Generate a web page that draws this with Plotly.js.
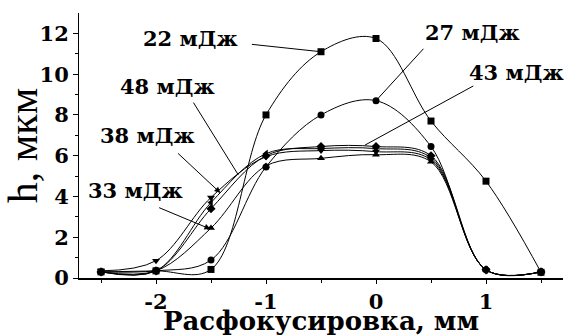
<!DOCTYPE html>
<html>
<head>
<meta charset="utf-8">
<script src="https://cdn.plot.ly/plotly-3.0.1.min.js"></script>
<style>
html,body{margin:0;padding:0;background:#fff;}
#chart{width:568px;height:336px;}
</style>
</head>
<body>
<div id="chart"></div>
<script>
// Defocus positions (mm)
var xVals = [-2.5, -2, -1.5, -1, -0.5, 0, 0.5, 1, 1.5];

// Depth h (µm) for each pulse energy
var seriesNames = ['22 мДж', '27 мДж', '33 мДж', '38 мДж', '43 мДж', '48 мДж'];
var h22 = [0.30, 0.35, 0.42, 8.0, 11.1, 11.75, 7.7, 4.75, 0.28];
var h27 = [0.30, 0.35, 0.88, 5.45, 8.0, 8.7, 6.45, 0.40, 0.30];
var h33 = [0.30, 0.35, 2.45, 5.50, 5.87, 6.05, 5.70, 0.40, 0.30];
var h38 = [0.35, 0.85, 3.95, 5.95, 6.25, 6.20, 5.80, 0.40, 0.30];
var h43 = [0.30, 0.35, 3.40, 6.00, 6.45, 6.45, 6.00, 0.40, 0.30];
var h48 = [0.30, 0.35, 3.70, 6.10, 6.35, 6.35, 5.90, 0.40, 0.30];
var seriesData = [h22, h27, h33, h38, h43, h48];
var seriesSymbols = ['square', 'circle', 'triangle-up', 'triangle-down', 'diamond', 'triangle-left'];

// Axis ticks
var xTickVals = [-2, -1, 0, 1];
var xTickText = ['-2', '-1', '0', '1'];
var yTickVals = [0, 2, 4, 6, 8, 10, 12];
var yTickText = ['0', '2', '4', '6', '8', '10', '12'];

// Callout labels: text position and pointer tail/head (data units)
var labelText = ['22 мДж', '27 мДж', '43 мДж', '48 мДж', '38 мДж', '33 мДж'];
var labelX = [-1.686, 0.879, 1.278, -1.895, -2.076, -2.185];
var labelY = [11.76, 12.06, 10.1, 9.41, 7.01, 4.31];
var pointerTailX = [-1.142, 0.444, 0.898, -1.668, -1.813, -1.985];
var pointerTailY = [11.47, 11.32, 9.46, 8.68, 6.18, 3.48];
var pointerHeadX = [-0.5, 0, -0.1, -1.251, -1.414, -1.505];
var pointerHeadY = [11.1, 8.7, 6.52, 5.05, 4.17, 2.40];
var pointerHead = [0, 0, 0, 0, 2, 2];

var boldFont = 'DejaVu Serif';
var titleFont = 'Liberation Serif';

var traces = seriesData.map(function (ys, i) {
  return {
    x: xVals, y: ys, name: seriesNames[i], type: 'scatter', mode: 'lines+markers',
    line: {color: '#000', width: 1, shape: 'spline', smoothing: 1},
    marker: {color: '#000', size: 7, symbol: seriesSymbols[i]},
    cliponaxis: true, showlegend: false
  };
});

var annotations = [];
labelText.forEach(function (t, i) {
  annotations.push({
    x: labelX[i], y: labelY[i], xref: 'x', yref: 'y', text: t, showarrow: false,
    font: {family: boldFont, size: 21, color: '#000', weight: 'bold'},
    xanchor: 'center', yanchor: 'middle'
  });
  annotations.push({
    x: pointerHeadX[i], y: pointerHeadY[i], xref: 'x', yref: 'y',
    ax: pointerTailX[i], ay: pointerTailY[i], axref: 'x', ayref: 'y',
    text: '', showarrow: true, arrowhead: pointerHead[i], arrowsize: 1.2,
    arrowwidth: 1, arrowcolor: '#000', standoff: 0, startstandoff: 0
  });
});

var layout = {
  width: 568, height: 336,
  margin: {l: 79, r: 5, t: 13, b: 58},
  paper_bgcolor: '#fff', plot_bgcolor: '#fff',
  showlegend: false,
  xaxis: {
    range: [-2.7, 1.7], tickvals: xTickVals, ticktext: xTickText,
    showgrid: false, zeroline: false, showline: true, linecolor: '#000', linewidth: 1.5,
    ticks: 'outside', ticklen: 4, tickwidth: 1, tickcolor: '#000',
    minor: {tickvals: [-2.5, -1.5, -0.5, 0.5, 1.5], ticks: 'outside', ticklen: 3, tickcolor: '#000', showgrid: false},
    tickfont: {family: boldFont, size: 21, color: '#000', weight: 'bold'},
    title: {text: 'Расфокусировка, мм', font: {family: boldFont, size: 26, color: '#000', weight: 'bold'}, standoff: 0}
  },
  yaxis: {
    range: [0, 13], tickvals: yTickVals, ticktext: yTickText,
    showgrid: false, zeroline: false, showline: true, linecolor: '#000', linewidth: 1,
    ticks: 'outside', ticklen: 5, tickwidth: 1, tickcolor: '#000',
    minor: {tickvals: [1, 3, 5, 7, 9, 11], ticks: 'outside', ticklen: 3, tickcolor: '#000', showgrid: false},
    tickfont: {family: boldFont, size: 21, color: '#000', weight: 'bold'},
    title: {text: 'h, мкм', font: {family: titleFont, size: 42, color: '#000'}, standoff: 5}
  },
  annotations: annotations
};

Plotly.newPlot('chart', traces, layout, {displayModeBar: false, staticPlot: true});
</script>
</body>
</html>
